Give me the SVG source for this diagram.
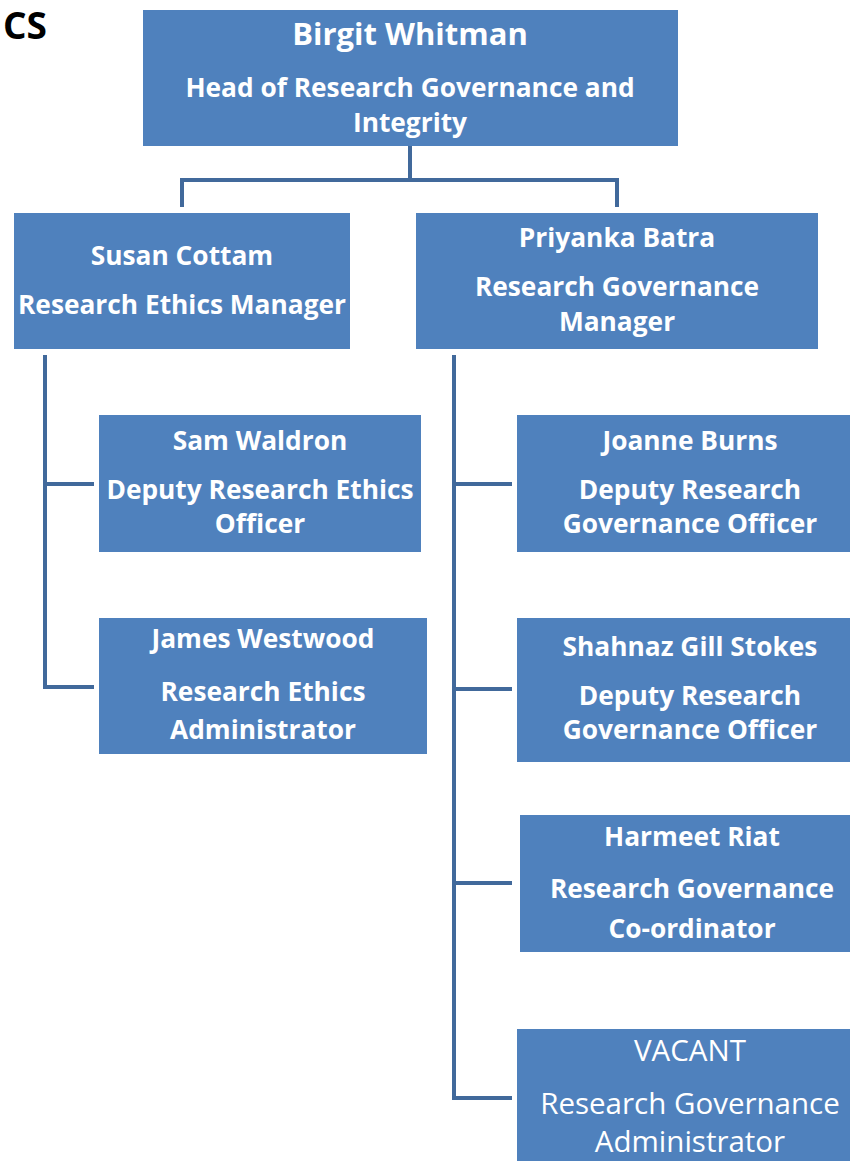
<svg xmlns="http://www.w3.org/2000/svg" width="850" height="1161" viewBox="0 0 850 1161">
<style>
.box{fill:#4F81BD;}
.t{font-family:"Open Sans","Liberation Sans",sans-serif;font-weight:bold;fill:#FFFFFF;text-anchor:middle;font-size:26.3px;}
.r{font-weight:normal;font-size:29.5px;}
.ln{fill:none;stroke:#41699B;stroke-width:4;stroke-linecap:butt;stroke-linejoin:miter;}
</style>
<rect width="850" height="1161" fill="#FFFFFF"/>
<text x="3" y="39" font-family="'Open Sans','Liberation Sans',sans-serif" font-weight="bold" font-size="37" text-anchor="start" fill="#000000">CS</text>
<g id="connectors">
<path class="ln" d="M410 146 V180 M182 207 V180 H617 V207"/>
<path class="ln" d="M45 355 V687 H94 M45 484 H94"/>
<path class="ln" d="M454 355 V1098 H512 M454 484 H512 M454 689 H512 M454 883 H512"/>
</g>
<g id="birgit">
<rect class="box" x="143" y="10" width="535" height="136"/>
<text class="t" x="410" y="45" style="font-size:31px">Birgit Whitman</text>
<text class="t" x="410" y="97">Head of Research Governance and</text>
<text class="t" x="410" y="132">Integrity</text>
</g>
<g id="susan">
<rect class="box" x="14" y="213" width="336" height="136"/>
<text class="t" x="182" y="265">Susan Cottam</text>
<text class="t" x="182" y="314">Research Ethics Manager</text>
</g>
<g id="priyanka">
<rect class="box" x="416" y="213" width="402" height="136"/>
<text class="t" x="617" y="247">Priyanka Batra</text>
<text class="t" x="617" y="296">Research Governance</text>
<text class="t" x="617" y="331">Manager</text>
</g>
<g id="sam">
<rect class="box" x="99" y="415" width="322" height="137"/>
<text class="t" x="260" y="450">Sam Waldron</text>
<text class="t" x="260" y="499">Deputy Research Ethics</text>
<text class="t" x="260" y="533">Officer</text>
</g>
<g id="james">
<rect class="box" x="99" y="618" width="328" height="136"/>
<text class="t" x="263" y="648">James Westwood</text>
<text class="t" x="263" y="701">Research Ethics</text>
<text class="t" x="263" y="739">Administrator</text>
</g>
<g id="joanne">
<rect class="box" x="517" y="415" width="333" height="137"/>
<text class="t" x="690" y="450">Joanne Burns</text>
<text class="t" x="690" y="499">Deputy Research</text>
<text class="t" x="690" y="533">Governance Officer</text>
</g>
<g id="shahnaz">
<rect class="box" x="517" y="618" width="333" height="144"/>
<text class="t" x="690" y="656">Shahnaz Gill Stokes</text>
<text class="t" x="690" y="705">Deputy Research</text>
<text class="t" x="690" y="739">Governance Officer</text>
</g>
<g id="harmeet">
<rect class="box" x="520" y="815" width="330" height="137"/>
<text class="t" x="692" y="846">Harmeet Riat</text>
<text class="t" x="692" y="898">Research Governance</text>
<text class="t" x="692" y="938">Co-ordinator</text>
</g>
<g id="vacant">
<rect class="box" x="517" y="1029" width="333" height="132"/>
<text class="t r" x="690" y="1061">VACANT</text>
<text class="t r" x="690" y="1114">Research Governance</text>
<text class="t r" x="690" y="1152">Administrator</text>
</g>
</svg>
